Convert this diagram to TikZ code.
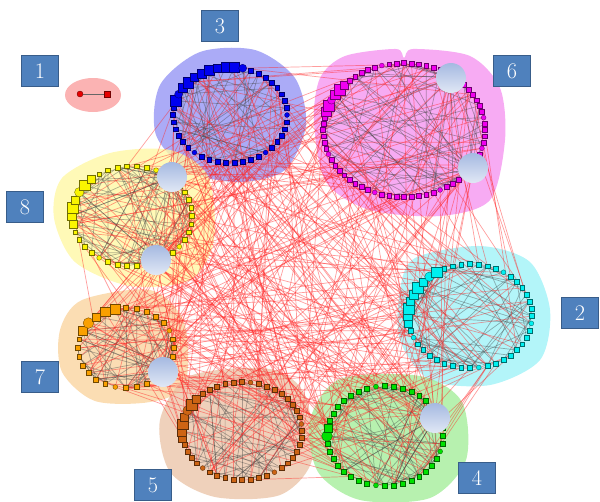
\documentclass[tikz,border=0pt]{standalone}
\usepackage{tikz}
\usetikzlibrary{positioning}
\pgfdeclarelayer{blobs}
\pgfdeclarelayer{edges}
\pgfsetlayers{blobs,edges,main}

\definecolor{boxblue}{RGB}{79,129,189}
\definecolor{boxedge}{RGB}{56,93,138}
% ring colours
\definecolor{col1}{RGB}{230,0,0}
\definecolor{col2}{RGB}{0,240,240}
\definecolor{col3}{RGB}{0,0,240}
\definecolor{col4}{RGB}{0,225,0}
\definecolor{col5}{RGB}{205,100,20}
\definecolor{col6}{RGB}{240,0,240}
\definecolor{col7}{RGB}{250,160,0}
\definecolor{col8}{RGB}{250,245,0}
% blob colours
\definecolor{blob1}{RGB}{250,160,160}
\definecolor{blob2}{RGB}{160,242,248}
\definecolor{blob3}{RGB}{150,150,245}
\definecolor{blob4}{RGB}{165,238,155}
\definecolor{blob5}{RGB}{235,198,170}
\definecolor{blob6}{RGB}{245,150,240}
\definecolor{blob7}{RGB}{250,212,160}
\definecolor{blob8}{RGB}{255,248,165}
\definecolor{hubtop}{RGB}{165,185,225}
\definecolor{hubbot}{RGB}{225,232,245}

\tikzstyle{numbox} = [draw=boxedge, fill=boxblue, line width=1pt, text=white,
  minimum width=1.12cm, minimum height=0.92cm, inner sep=0pt,
  font=\fontsize{19}{22}\selectfont]
\tikzstyle{ringnode} = [inner sep=0pt, line width=0.3pt]
\tikzstyle{hub} = [circle, inner sep=0pt, minimum size=0.9cm,
  top color=hubtop, bottom color=hubbot]
\tikzstyle{blob} = [fill opacity=0.8]
\tikzstyle{intra} = [black!75, opacity=0.4, line width=0.6pt]
\tikzstyle{inter} = [red!85, opacity=0.45, line width=0.6pt]

% node counts per cluster (index = cluster number)
\def\ncount{{0,2,44,42,40,44,68,28,38}}

\begin{document}
\begin{tikzpicture}[x=0.03cm, y=-0.03cm]
\useasboundingbox (0,0) rectangle (600,501);
\pgfmathsetseed{42}

% ring nodes of clusters 2..8
\foreach \c/\cx/\cy/\rx/\ry/\bl/\bh in {3/230/115/57/48/190/285, 6/404/130/81/67/195/225,
    8/132/216/60/50/170/230, 2/470/316/62/52/165/240, 7/126/348/48/40/200/265,
    5/242/431/60/49/165/225, 4/385/436/58/50/172/195} {
  \pgfmathtruncatemacro\nc{\ncount[\c]}
  \foreach \i in {1,...,\nc} {
    \pgfmathsetmacro\a{\i/\nc*360}
    \pgfmathtruncatemacro\isbig{(\a>\bl)*(\a<\bh)}
    \pgfmathtruncatemacro\rnd{mod(\i*7+\c,9)}
    \pgfmathsetmacro\sz{\isbig ? 0.24+0.04*mod(\i,3) : 0.145}
    \ifnum\rnd=0 \def\shp{circle}\else\def\shp{rectangle}\fi
    \node[ringnode, \shp, fill=col\c, draw=col\c!45!black, minimum size=\sz cm]
      (c\c-\i) at ({\cx+\rx*cos(\a)},{\cy+\ry*sin(\a)}) {};
  }
}

% cluster 1
\node[ringnode, circle, fill=col1, draw=col1!50!black, minimum size=0.18cm] (c1-1) at (80,94) {};
\node[ringnode, rectangle, fill=col1, draw=col1!50!black, minimum size=0.17cm] (c1-2) at (107,94) {};

% hubs
\node[hub] (h3) at (172,177) {};
\node[hub] (h8) at (156,260) {};
\node[hub] (h7) at (163,372) {};
\node[hub] (h4) at (435,418) {};
\node[hub] (h6) at (451,78) {};
\node[hub] (h2) at (473,168) {};

% labels
\node[numbox] (l1) at (40,71) {1};
\node[numbox] (l3) at (220,26) {3};
\node[numbox] (l6) at (512,71) {6};
\node[numbox] (l8) at (25,207) {8};
\node[numbox] (l2) at (580,313) {2};
\node[numbox] (l7) at (40,377) {7};
\node[numbox] (l5) at (153,485) {5};
\node[numbox] (l4) at (477,478) {4};

\begin{pgfonlayer}{blobs}
\fill[blob, blob1] (93,95) ellipse (28 and 17);
\fill[blob, blob3] plot[smooth cycle] coordinates {(200,52) (255,50) (295,78) (306,125)
  (285,170) (240,182) (190,172) (156,135) (160,85)};
\fill[blob, blob6] plot[smooth cycle] coordinates {(345,56) (396,49) (404,58) (413,49)
  (470,56) (500,88) (505,140) (490,200) (440,216) (370,210) (326,182) (314,122) (320,78)};
\fill[blob, blob8] plot[smooth cycle] coordinates {(62,178) (110,153) (170,150) (208,176)
  (214,240) (190,280) (130,286) (75,262) (54,218)};
\fill[blob, blob2] plot[smooth cycle] coordinates {(415,258) (480,246) (530,262) (550,310)
  (540,360) (490,385) (430,380) (400,340) (400,290)};
\fill[blob, blob7] plot[smooth cycle] coordinates {(82,300) (150,290) (184,322) (185,385)
  (150,402) (95,401) (62,372) (60,330)};
\fill[blob, blob5] plot[smooth cycle] coordinates {(190,376) (270,369) (305,395) (312,460)
  (280,495) (215,497) (170,472) (160,420)};
\fill[blob, blob4] plot[smooth cycle] coordinates {(340,379) (420,376) (462,402) (466,460)
  (430,498) (360,500) (318,472) (310,420)};
\end{pgfonlayer}

\begin{pgfonlayer}{edges}
\draw[black!60, line width=0.5pt] (c1-1) -- (c1-2);
% edges inside a cluster
\foreach \c in {2,...,8} {
  \pgfmathtruncatemacro\nc{\ncount[\c]}
  \foreach \k in {1,...,55} {
    \pgfmathtruncatemacro\na{random(1,\nc)}
    \pgfmathtruncatemacro\nb{random(1,\nc)}
    \draw[intra] (c\c-\na) -- (c\c-\nb);
  }
}
% edges between clusters
\foreach \k in {1,...,300} {
  \pgfmathtruncatemacro\p{random(2,8)}
  \pgfmathtruncatemacro\q{mod(\p-2+random(1,6),7)+2}
  \pgfmathtruncatemacro\np{\ncount[\p]}
  \pgfmathtruncatemacro\nq{\ncount[\q]}
  \pgfmathtruncatemacro\na{random(1,\np)}
  \pgfmathtruncatemacro\nb{random(1,\nq)}
  \draw[inter] (c\p-\na) -- (c\q-\nb);
}
% hub fans
\foreach \h/\c in {h3/8, h8/8, h7/7, h4/4, h6/6, h2/6} {
  \pgfmathtruncatemacro\nc{\ncount[\c]}
  \foreach \k in {1,...,12} {
    \pgfmathtruncatemacro\na{random(1,\nc)}
    \draw[intra] (\h) -- (c\c-\na);
  }
  \foreach \k in {1,...,8} {
    \pgfmathtruncatemacro\q{mod(\c-2+random(1,6),7)+2}
    \pgfmathtruncatemacro\nq{\ncount[\q]}
    \pgfmathtruncatemacro\nb{random(1,\nq)}
    \draw[inter] (\h) -- (c\q-\nb);
  }
}
\end{pgfonlayer}
\end{tikzpicture}
\end{document}
